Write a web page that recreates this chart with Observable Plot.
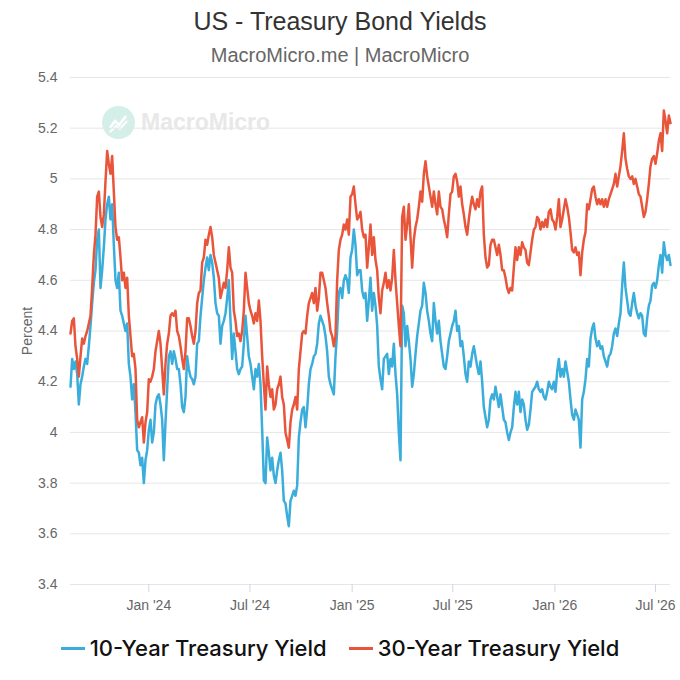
<!DOCTYPE html>
<html>
<head>
<meta charset="utf-8">
<script src="https://cdn.jsdelivr.net/npm/d3@7"></script>
<script src="https://cdn.jsdelivr.net/npm/@observablehq/plot@0.6"></script>
<style>
  body { margin: 0; background: #fff; font-family: "Liberation Sans", Arial, sans-serif; }
  #wrap { position: relative; width: 680px; height: 680px; overflow: hidden; }
  #title { position: absolute; top: 6px; left: 0; width: 680px; text-align: center; font-size: 25px; color: #333; line-height: 30px; }
  #subtitle { position: absolute; top: 43px; left: 0; width: 680px; text-align: center; font-size: 20px; color: #666; line-height: 24px; }
  #chart { position: absolute; top: 66px; left: 0; }
  #wm { position: absolute; left: 102px; top: 106px; display: flex; align-items: center; gap: 6px; }
  #wm span { font-size: 23px; font-weight: bold; color: #e8e8e8; }
  #legend { position: absolute; top: 633px; left: 0; width: 680px; display: flex; justify-content: center; gap: 22px; font-family: Inter, "Liberation Sans", Arial, sans-serif; font-weight: 500; font-size: 22px; color: #111; line-height: 30px; }
  .item { display: flex; align-items: center; gap: 5px; }
  .sw { width: 24px; height: 3px; }
</style>
</head>
<body>
<div id="wrap">
  <div id="title"></div>
  <div id="subtitle"></div>
  <div id="wm">
    <svg width="33" height="33" viewBox="0 0 33 33"><circle cx="16.5" cy="16.5" r="16.5" fill="#d3efe8"/><polyline points="8,22 13,15 17,19 24,10" fill="none" stroke="#fff" stroke-width="2.5"/><polyline points="8,26 14,20 18,23 25,15" fill="none" stroke="#fff" stroke-width="2"/></svg>
    <span>MacroMicro</span>
  </div>
  <div id="chart"></div>
  <div id="legend"></div>
</div>
<script>
const titleText = "US - Treasury Bond Yields";
const subtitleText = "MacroMicro.me | MacroMicro";
const yLabel = "Percent";
const seriesNames = ["10-Year Treasury Yield", "30-Year Treasury Yield"];
const seriesColors = ["#3aaddb", "#e9553b"];

// observations every 3 days starting 2023-08-13
const startDate = [2023, 7, 13];
const stepDays = 3;

const yield10 = [
  4.18,4.29,4.25,4.28,4.23,4.11,4.19,4.22,4.26,4.29,4.27,4.34,4.42,4.51,4.59,4.64,4.76,4.80,4.57,4.64,
  4.73,4.84,4.90,4.93,4.84,4.90,4.74,4.60,4.57,4.63,4.48,4.46,4.43,4.40,4.43,4.27,4.22,4.13,4.19,4.08,
  3.93,3.92,3.87,3.90,3.80,3.89,3.93,4.01,4.05,3.96,4.00,4.11,4.14,4.15,4.11,4.05,3.89,4.04,4.17,4.30,
  4.32,4.27,4.32,4.29,4.25,4.25,4.19,4.10,4.08,4.14,4.30,4.25,4.22,4.21,4.19,4.22,4.35,4.36,4.46,4.53,
  4.60,4.65,4.69,4.64,
  4.70,4.67,4.61,4.51,4.47,4.46,4.35,4.42,4.44,4.47,4.53,4.60,4.44,4.29,4.39,4.32,4.25,4.23,4.25,4.26,
  4.35,4.46,4.38,4.30,4.27,4.22,4.17,4.25,4.22,4.27,4.19,4.01,3.81,3.80,3.98,3.92,3.85,3.90,3.83,3.80,
  3.85,3.89,3.92,3.85,3.73,3.72,3.67,3.63,3.73,3.75,3.77,3.75,3.79,3.98,4.04,4.09,4.10,4.02,4.09,4.19,
  4.25,4.27,4.30,4.31,4.35,4.43,4.46,4.44,4.42,4.38,4.32,4.22,4.19,4.17,4.15,4.30,4.40,4.55,4.57,4.53,
  4.60,4.62,4.60,4.55,4.69,4.72,4.80,4.74,4.62,4.64,
  4.64,4.56,4.53,4.55,4.44,4.52,4.61,4.48,4.55,4.50,4.42,4.26,4.21,4.17,4.29,4.30,4.31,4.23,4.29,4.26,
  4.35,4.23,4.15,4.00,3.89,4.50,4.47,4.34,4.42,4.36,4.29,4.18,4.23,4.31,4.38,4.43,4.48,4.50,4.59,4.55,
  4.48,4.44,4.39,4.36,4.51,4.44,4.39,4.44,4.36,4.31,4.26,4.25,4.30,4.36,4.39,4.42,4.44,4.48,4.40,4.42,
  4.34,4.36,4.30,4.23,4.20,4.28,4.26,4.31,4.34,4.30,4.26,4.23,4.28,4.20,4.10,4.06,4.02,4.05,4.13,4.15,
  4.13,4.18,4.14,4.10,4.15,4.10,4.05,4.04,4.00,3.97,4.00,4.02,4.10,
  4.16,4.11,4.16,4.08,4.13,4.11,4.05,4.01,4.03,4.09,4.16,4.17,4.18,4.20,4.17,4.16,4.17,4.14,4.13,4.16,
  4.20,4.18,4.17,4.20,4.16,4.24,4.29,4.22,4.25,4.22,4.28,4.24,4.20,4.13,4.07,4.05,4.09,4.07,4.05,3.94,
  4.13,4.16,4.21,4.29,4.26,4.37,4.41,4.43,4.37,4.34,4.36,4.33,4.34,4.30,4.28,4.26,4.30,4.31,4.34,4.39,
  4.41,4.38,4.43,4.47,4.58,4.67,4.57,4.52,4.47,4.46,4.51,4.55,4.50,4.47,4.45,4.47,4.46,4.39,4.38,4.45,
  4.50,4.52,4.58,4.59,4.57,4.60,4.66,4.70,4.63,4.75,4.70,4.68,4.70,4.66
];

const yield30 = [
  4.39,4.44,4.45,4.34,4.29,4.22,4.30,4.37,4.35,4.38,4.40,4.43,4.46,4.57,4.70,4.78,4.93,4.95,4.85,4.81,
  4.86,4.99,5.11,5.06,5.02,5.09,4.95,4.81,4.76,4.77,4.69,4.60,4.63,4.57,4.61,4.46,4.38,4.30,4.31,4.25,
  4.05,4.02,4.04,4.06,3.96,4.04,4.08,4.21,4.20,4.22,4.25,4.32,4.36,4.40,4.35,4.25,4.15,4.27,4.35,4.39,
  4.46,4.47,4.46,4.48,4.40,4.38,4.34,4.29,4.25,4.32,4.45,4.45,4.42,4.38,4.35,4.40,4.51,4.55,4.56,4.67,
  4.69,4.76,4.74,4.78,
  4.81,4.77,4.70,4.67,4.64,4.61,4.53,4.56,4.59,4.57,4.64,4.73,4.65,4.63,4.48,4.44,4.38,4.39,4.36,4.40,
  4.48,4.63,4.57,4.51,4.48,4.46,4.43,4.47,4.44,4.52,4.44,4.30,4.19,4.09,4.26,4.19,4.14,4.17,4.09,4.11,
  4.17,4.19,4.22,4.14,4.11,4.00,3.97,3.94,4.04,4.09,4.11,4.14,4.09,4.25,4.32,4.39,4.40,4.39,4.46,4.51,
  4.53,4.55,4.51,4.57,4.48,4.53,4.63,4.63,4.60,4.57,4.51,4.46,4.40,4.38,4.34,4.38,4.60,4.72,4.76,4.78,
  4.82,4.80,4.84,4.78,4.93,4.94,4.97,4.90,4.84,4.85,
  4.87,4.80,4.77,4.78,4.65,4.73,4.82,4.70,4.77,4.68,4.64,4.53,4.47,4.56,4.59,4.63,4.57,4.60,4.56,4.61,
  4.72,4.60,4.51,4.42,4.34,4.85,4.89,4.76,4.82,4.90,4.77,4.65,4.76,4.81,4.84,4.89,4.95,4.91,5.02,5.07,
  5.01,4.97,4.93,4.89,4.95,4.90,4.86,4.95,4.89,4.88,4.84,4.81,4.77,4.86,4.94,4.95,5.01,5.02,4.99,4.93,
  4.97,4.90,4.86,4.81,4.78,4.84,4.89,4.93,4.90,4.88,4.92,4.89,4.95,4.97,4.78,4.69,4.65,4.66,4.74,4.76,
  4.76,4.73,4.70,4.74,4.70,4.64,4.64,4.61,4.57,4.55,4.57,4.56,4.65,
  4.73,4.68,4.73,4.70,4.75,4.73,4.72,4.67,4.66,4.71,4.76,4.80,4.81,4.85,4.84,4.80,4.83,4.81,4.84,4.81,
  4.87,4.88,4.84,4.83,4.80,4.85,4.92,4.81,4.84,4.88,4.92,4.89,4.85,4.79,4.72,4.71,4.73,4.70,4.71,4.62,
  4.71,4.76,4.79,4.90,4.88,4.92,4.96,4.97,4.93,4.90,4.92,4.90,4.92,4.89,4.92,4.89,4.92,4.94,4.96,4.98,
  5.02,4.97,5.01,5.05,5.11,5.18,5.08,5.04,5.01,5.00,5.01,4.98,5.00,4.97,4.94,4.93,4.89,4.85,4.87,4.92,
  4.98,5.05,5.08,5.09,5.06,5.10,5.15,5.18,5.11,5.27,5.23,5.18,5.25,5.22
];

const yTicks = [3.4, 3.6, 3.8, 4.0, 4.2, 4.4, 4.6, 4.8, 5.0, 5.2, 5.4];
const xTickDates = [[2024,0,1],[2024,6,1],[2025,0,1],[2025,6,1],[2026,0,1],[2026,6,1]];
const xTickLabels = ["Jan '24", "Jul '24", "Jan '25", "Jul '25", "Jan '26", "Jul '26"];

const start = new Date(Date.UTC(...startDate));
const n = Math.min(yield10.length, yield30.length);
const rows = d3.range(n).map(i => ({
  date: d3.utcDay.offset(start, i * stepDays),
  y10: yield10[i],
  y30: yield30[i]
}));
const tickDates = xTickDates.map(a => new Date(Date.UTC(...a)));
const labelMap = new Map(tickDates.map((d, i) => [+d, xTickLabels[i]]));
const fmt = d3.format("~g");

document.getElementById("title").textContent = titleText;
document.getElementById("subtitle").textContent = subtitleText;

const chart = Plot.plot({
  width: 680,
  height: 548,
  marginTop: 11,
  marginBottom: 30,
  marginLeft: 70,
  marginRight: 10,
  style: { fontFamily: '"Liberation Sans", Arial, sans-serif', fontSize: "14px", color: "#666", background: "transparent", overflow: "visible" },
  x: { type: "utc", domain: d3.extent(rows, d => d.date) },
  y: { domain: [3.4, 5.4] },
  marks: [
    Plot.ruleY(yTicks, { stroke: "#e6e6e6", strokeWidth: 1, strokeOpacity: 1 }),
    Plot.axisY({ ticks: yTicks, tickFormat: d => fmt(+d.toFixed(1)), tickSize: 0, tickPadding: 13, label: yLabel, labelAnchor: "center", labelArrow: "none", labelOffset: 48, fill: "#666" }),
    Plot.axisX({ ticks: tickDates, tickFormat: d => labelMap.get(+d), tickSize: 8, tickPadding: 8, stroke: "#ccd6eb", strokeOpacity: 1, fill: "#666", label: null }),
    Plot.lineY(rows, { x: "date", y: "y10", stroke: seriesColors[0], strokeWidth: 2.5 }),
    Plot.lineY(rows, { x: "date", y: "y30", stroke: seriesColors[1], strokeWidth: 2.5 })
  ]
});
document.getElementById("chart").appendChild(chart);

const legend = document.getElementById("legend");
seriesNames.forEach((name, i) => {
  const item = document.createElement("div");
  item.className = "item";
  const sw = document.createElement("div");
  sw.className = "sw";
  sw.style.background = seriesColors[i];
  const t = document.createElement("span");
  t.textContent = name;
  item.appendChild(sw);
  item.appendChild(t);
  legend.appendChild(item);
});
</script>
</body>
</html>
